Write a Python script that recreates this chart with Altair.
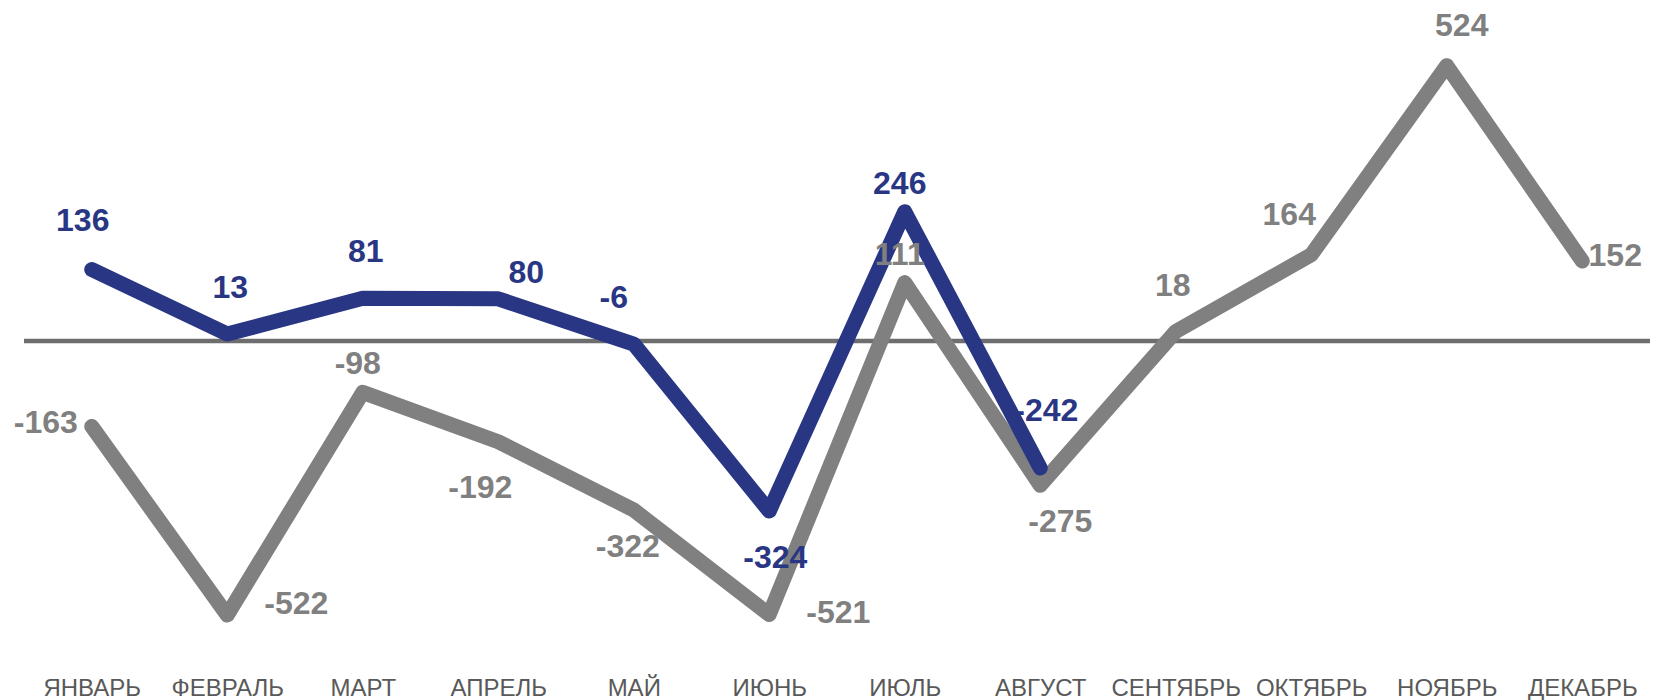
import altair as alt
import pandas as pd

# ---- data ----
months = ["ЯНВАРЬ", "ФЕВРАЛЬ", "МАРТ", "АПРЕЛЬ", "МАЙ", "ИЮНЬ",
          "ИЮЛЬ", "АВГУСТ", "СЕНТЯБРЬ", "ОКТЯБРЬ", "НОЯБРЬ", "ДЕКАБРЬ"]
gray_values = [-163, -522, -98, -192, -322, -521, 111, -275, 18, 164, 524, 152]
blue_values = [136, 13, 81, 80, -6, -324, 246, -242]

# label placement category per point (styling)
gray_label_pos = ["left", "right_high", "above_close", "below_left", "below", "right_low",
                  "above_close", "below_right", "above_mid", "above_left_low", "above_right", "right"]
blue_label_pos = ["above_left_near", "above", "above", "upper_right", "above_left", "below_right_far",
                  "above_close", "above_far"]

# placement category -> (dx, dy) in pixels
LABEL_OFFSETS = {
    "above": (3, -46),
    "above_mid": (-3, -45),
    "above_left_near": (-9, -48),
    "above_close": (-5, -28),
    "above_left": (-20, -46),
    "above_left_low": (-22, -40),
    "above_right": (15, -40),
    "upper_right": (28, -26),
    "above_far": (6, -57),
    "below": (-6, 37),
    "below_right_far": (6, 47),
    "below_left": (-18, 46),
    "below_right": (20, 37),
    "left": (-46, -3),
    "right_high": (69, -11),
    "right_low": (69, -2),
    "right": (33, -5),
}

BLUE = "#283684"
GRAY = "#808080"
ZERO = "#6e6e6e"
FONT = "Liberation Sans"

rows = []
for m, v, p in zip(months, gray_values, gray_label_pos):
    rows.append({"month": m, "value": v, "series": "gray", "pos": p, "label": str(v)})
for m, v, p in zip(months, blue_values, blue_label_pos):
    rows.append({"month": m, "value": v, "series": "blue", "pos": p, "label": str(v)})
df = pd.DataFrame(rows)

x_enc = alt.X(
    "month:N", sort=months,
    scale=alt.Scale(type="point", padding=0.5),
    axis=alt.Axis(title=None, domain=False, ticks=False, tickSize=0, grid=False,
                  labelAngle=0, labelFont=FONT, labelFontSize=24, labelColor="#595959",
                  labelBaseline="middle", labelPadding=58),
)
y_scale = alt.Scale(domain=[-550.5, 630], nice=False, zero=False)
y_enc = alt.Y("value:Q", scale=y_scale, axis=None)

zero_rule = alt.Chart(pd.DataFrame({"value": [0]})).mark_rule(
    color=ZERO, strokeWidth=4.5
).encode(y=y_enc)

base = alt.Chart(df)

gray_line = base.transform_filter(alt.datum.series == "gray").mark_line(
    color=GRAY, strokeWidth=15, strokeCap="round", strokeJoin="round"
).encode(x=x_enc, y=y_enc)

blue_line = base.transform_filter(alt.datum.series == "blue").mark_line(
    color=BLUE, strokeWidth=15, strokeCap="round", strokeJoin="round"
).encode(x=x_enc, y=y_enc)

text_layers = []
for series, color, positions in [("gray", GRAY, gray_label_pos), ("blue", BLUE, blue_label_pos)]:
    for pos in sorted(set(positions)):
        dx, dy = LABEL_OFFSETS[pos]
        text_layers.append(
            base.transform_filter(
                (alt.datum.series == series) & (alt.datum.pos == pos)
            ).mark_text(
                font=FONT, fontSize=32, fontWeight="bold", color=color,
                align="center", baseline="middle", dx=dx, dy=dy
            ).encode(x=x_enc, y=y_enc, text="label:N")
        )

chart = alt.layer(zero_rule, gray_line, blue_line, *text_layers).properties(
    width=1626, height=620,
    padding={"left": 16, "top": 2, "right": 0, "bottom": 70},
    autosize=alt.AutoSizeParams(type="none"),
    background="white",
).configure_view(strokeWidth=0)

chart.save("out.html", embed_options={"renderer": "svg", "actions": False})
